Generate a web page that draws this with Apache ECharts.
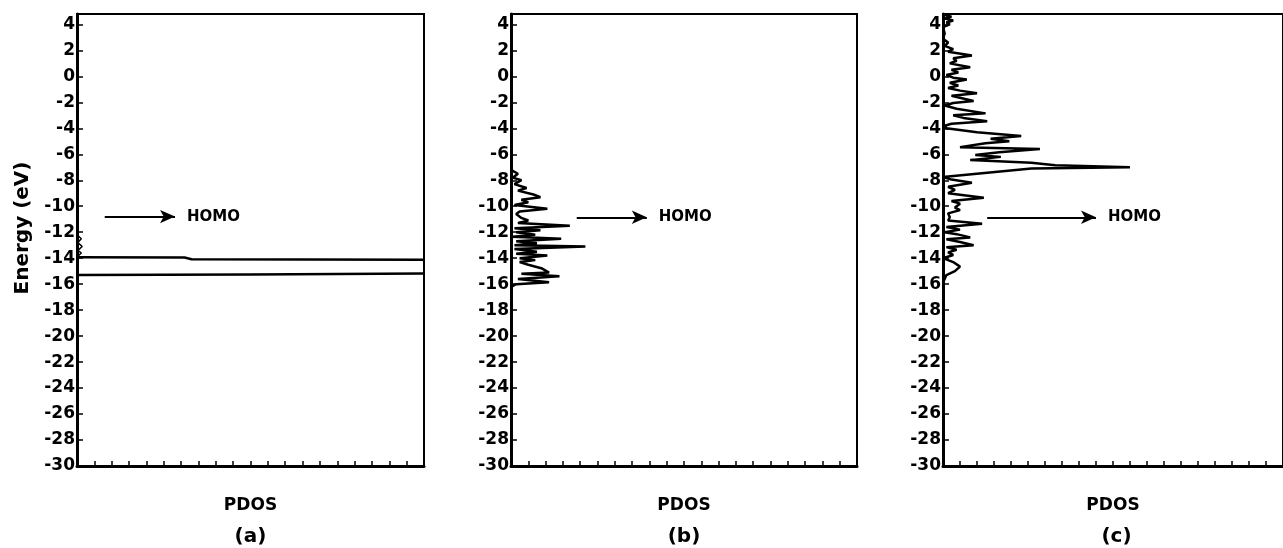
<!DOCTYPE html>
<html>
<head>
<meta charset="utf-8">
<title>PDOS</title>
<script src="https://cdn.jsdelivr.net/npm/echarts@6/dist/echarts.min.js"></script>
<style>
  html, body { margin: 0; padding: 0; background: #fff; }
  #chart { width: 1283px; height: 548px; }
</style>
</head>
<body>
<div id="chart"></div>
<script>
// Energy axis (eV) and PDOS axis ranges
const energyMin = -30;
const energyMax = 4.8;
const energyStep = 2;
const pdosMin = 0;
const pdosMax = 20;
const panelLabels = ['(a)', '(b)', '(c)'];

// Panel (a): two nearly flat levels plus a small wiggle by the axis, [PDOS, energy]
const levelUpperA = [[0, -13.92], [6.2, -13.95], [6.6, -14.08], [20, -14.12]];
const levelLowerA = [[0, -15.3], [10, -15.25], [20, -15.18]];
const wiggleA = [[0, -12.2], [0.25, -12.5], [0.05, -12.8], [0.3, -13.1], [0.05, -13.4], [0.25, -13.6], [0, -13.9]];

// Panel (b): PDOS trace, [PDOS, energy]
const traceB = [
  [0.0, -7.2], [0.4, -7.5], [0.1, -7.8], [0.6, -8.0], [0.2, -8.3], [0.9, -8.6], [0.4, -8.8],
  [1.3, -9.1], [1.7, -9.3], [0.6, -9.5], [1.0, -9.7], [0.2, -9.9], [2.1, -10.2], [0.5, -10.4],
  [0.3, -10.6], [0.6, -10.9], [1.0, -11.1], [0.4, -11.3], [3.4, -11.5], [0.2, -11.7], [1.7, -11.85],
  [0.3, -12.0], [1.4, -12.2], [0.1, -12.35], [2.9, -12.5], [0.3, -12.7], [1.5, -12.85], [0.2, -13.0],
  [4.3, -13.1], [0.2, -13.3], [1.5, -13.5], [0.3, -13.65], [2.1, -13.8], [0.5, -14.0], [1.4, -14.15],
  [0.5, -14.3], [1.0, -14.5], [1.8, -14.8], [2.2, -15.1], [0.6, -15.2], [2.8, -15.4], [0.4, -15.6],
  [2.2, -15.85], [0.3, -16.0], [0.0, -16.2]
];

// Panel (c): PDOS trace, [PDOS, energy]
const traceC = [
  [0.0, 4.75], [0.5, 4.6], [0.1, 4.45], [0.6, 4.3], [0.2, 4.15], [0.4, 4.0], [0.0, 3.8], [0.1, 3.3],
  [0.0, 2.9], [0.3, 2.6], [0.1, 2.35], [0.6, 2.1], [0.3, 1.9], [1.7, 1.6], [0.6, 1.4], [0.8, 1.2],
  [0.4, 1.0], [1.6, 0.7], [0.5, 0.5], [0.9, 0.3], [0.2, 0.1], [0.6, -0.1], [1.4, -0.25], [0.4, -0.5],
  [0.9, -0.7], [0.3, -0.9], [1.0, -1.1], [2.0, -1.3], [0.5, -1.5], [1.8, -1.9], [0.6, -2.05],
  [0.1, -2.25], [0.8, -2.5], [2.5, -2.85], [0.6, -3.0], [1.2, -3.2], [2.6, -3.45], [0.5, -3.65],
  [0.1, -3.8], [0.2, -4.0], [2.0, -4.3], [4.6, -4.6], [2.8, -4.8], [3.9, -5.0], [2.5, -5.15],
  [1.0, -5.45], [5.7, -5.6], [3.3, -5.85], [1.9, -6.05], [3.4, -6.2], [1.6, -6.45], [5.2, -6.65],
  [6.6, -6.85], [11.0, -7.0], [5.2, -7.1], [0.0, -7.75], [0.5, -7.95], [1.7, -8.2], [0.3, -8.5],
  [0.7, -8.75], [0.3, -9.0], [2.4, -9.35], [0.5, -9.6], [1.0, -9.8], [0.7, -10.1], [1.0, -10.3],
  [0.3, -10.55], [0.4, -10.85], [0.3, -11.1], [2.3, -11.35], [0.2, -11.6], [1.0, -11.8], [0.1, -12.0],
  [0.8, -12.15], [1.6, -12.4], [0.2, -12.55], [1.0, -12.75], [1.8, -13.0], [0.2, -13.15], [0.8, -13.35],
  [0.3, -13.55], [0.6, -13.75], [0.0, -14.0], [0.6, -14.3], [1.0, -14.65], [0.7, -15.0], [0.2, -15.3],
  [0.0, -15.9]
];

// HOMO arrows per panel: [PDOS start, PDOS end, energy]
const homoArrows = [[1.6, 5.65, -10.8], [3.8, 7.85, -10.85], [2.6, 9.0, -10.85]];

const FONT = 'DejaVu Sans';
const gridBoxes = [
  { left: 77, top: 14, width: 347, height: 452 },
  { left: 511, top: 14, width: 346, height: 452 },
  { left: 943, top: 14, width: 347, height: 452 }
];

const grids = gridBoxes.map(g => Object.assign({
  show: true, borderColor: '#000', borderWidth: 2, backgroundColor: 'transparent'
}, g));

const xAxes = gridBoxes.map((g, i) => ({
  type: 'value', gridIndex: i, min: pdosMin, max: pdosMax, interval: 1,
  name: 'PDOS', nameLocation: 'middle', nameGap: 31,
  nameTextStyle: { fontFamily: FONT, fontWeight: 'bold', fontSize: 17, color: '#000' },
  axisLine: { show: true, onZero: false, lineStyle: { color: '#000', width: 3 } },
  axisTick: { show: true, inside: true, length: 5, lineStyle: { color: '#000', width: 1.5 } },
  axisLabel: { show: false },
  splitLine: { show: false }
}));

const yAxes = gridBoxes.map((g, i) => ({
  type: 'value', gridIndex: i, min: energyMin, max: energyMax, interval: energyStep,
  axisLine: { show: true, onZero: false, lineStyle: { color: '#000', width: 3 } },
  axisTick: { show: true, inside: true, length: 6, lineStyle: { color: '#000', width: 1.5 } },
  axisLabel: {
    show: true, margin: 2, color: '#000', fontFamily: FONT, fontWeight: 'bold', fontSize: 17,
    formatter: v => (Number.isInteger(v) ? String(v) : '')
  },
  splitLine: { show: false }
}));

function homoMark(i) {
  const a = homoArrows[i];
  return {
    silent: true,
    symbol: ['none', 'arrow'],
    symbolSize: [10, 15],
    lineStyle: { color: '#000', width: 2, type: 'solid' },
    label: {
      show: true, position: 'end', formatter: 'HOMO', distance: 12,
      color: '#000', fontFamily: FONT, fontWeight: 'bold', fontSize: 15
    },
    data: [[{ coord: [a[0], a[2]] }, { coord: [a[1], a[2]] }]]
  };
}

function trace(data, i, extra) {
  return Object.assign({
    type: 'line', xAxisIndex: i, yAxisIndex: i, data: data,
    showSymbol: false, symbol: 'none', smooth: false,
    lineStyle: { color: '#000', width: 2.5 },
    animation: false, silent: true
  }, extra || {});
}

const series = [
  trace(levelUpperA, 0, { markLine: homoMark(0) }),
  trace(levelLowerA, 0),
  trace(wiggleA, 0, { lineStyle: { color: '#000', width: 1.5 } }),
  trace(traceB, 1, { markLine: homoMark(1) }),
  trace(traceC, 2, { markLine: homoMark(2) })
];

const graphics = [
  {
    type: 'text', x: 23, y: 228, rotation: Math.PI / 2,
    style: { text: 'Energy (eV)', fill: '#000', font: 'bold 20px "DejaVu Sans"', align: 'center', verticalAlign: 'middle' }
  }
].concat(gridBoxes.map((g, i) => ({
  type: 'text', x: g.left + g.width / 2, y: 537,
  style: { text: panelLabels[i], fill: '#000', font: 'bold 20px "DejaVu Sans"', align: 'center', verticalAlign: 'middle' }
})));

const chart = echarts.init(document.getElementById('chart'), null, { renderer: 'canvas' });
chart.setOption({
  animation: false,
  backgroundColor: '#fff',
  grid: grids,
  xAxis: xAxes,
  yAxis: yAxes,
  series: series,
  graphic: graphics
});
</script>
</body>
</html>
